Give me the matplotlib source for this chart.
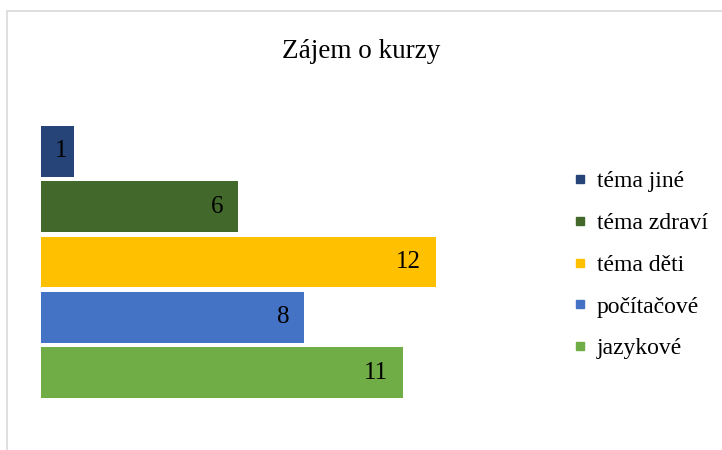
import matplotlib.pyplot as plt
from matplotlib.lines import Line2D
from matplotlib.patches import Rectangle

categories = ["téma jiné", "téma zdraví", "téma děti", "počítačové", "jazykové"]
values = [1, 6, 12, 8, 11]
colors = ["#264478", "#43682b", "#ffc000", "#4472c4", "#70ad47"]

plt.rcParams["font.family"] = ["Liberation Serif", "DejaVu Serif"]

fig = plt.figure(figsize=(7.22, 4.5), dpi=100)

# chart frame (light grey border running off the right and bottom)
fig.patches.append(Rectangle((7 / 722, -0.1), 1.2, 0.1 + 1 - 11 / 450,
                             transform=fig.transFigure, fill=False,
                             edgecolor="#d9d9d9", linewidth=1.2))

ax = fig.add_axes([41 / 722, 1 - 403 / 450, 459 / 722, 282 / 450])
ypos = list(range(len(categories)))
bars = ax.barh(ypos, values, height=0.92, color=colors)
ax.set_ylim(len(categories) - 0.5 + 0.05, -0.5 - 0.05)
ax.set_xlim(0, 13.95)
ax.axis("off")

for b, v in zip(bars, values):
    # narrow bar: label sits closer to the end
    off = -5 if v < 2 else -10.8
    ax.annotate(str(v), (b.get_width(), b.get_y() + b.get_height() / 2),
                xytext=(off, 0), textcoords="offset points",
                ha="right", va="center", fontsize=18)

fig.text(0.5, 1 - 51 / 450, "Zájem o kurzy", ha="center", va="center", fontsize=19.5)

handles = [Line2D([], [], marker="s", linestyle="none", markersize=6,
                  markerfacecolor=c, markeredgecolor=c) for c in colors]
fig.legend(handles, categories, loc="center left",
           bbox_to_anchor=(552 / 722, 1 - 265 / 450), frameon=False,
           fontsize=17, handlelength=0.6, handletextpad=0.4, labelspacing=0.86)

fig.savefig("out.png", dpi=100)
